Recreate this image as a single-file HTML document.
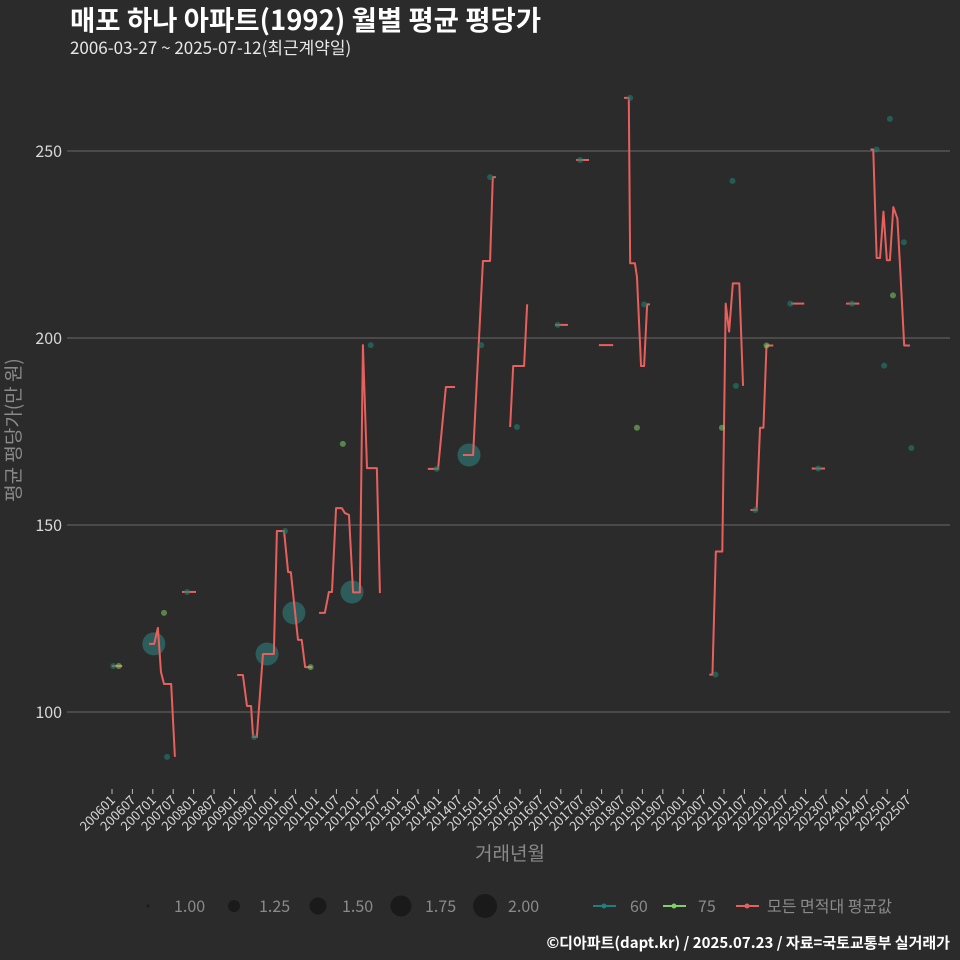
<!DOCTYPE html>
<html><head><meta charset="utf-8">
<style>
body{margin:0;background:#2b2b2b;}
svg{display:block;font-family:"Noto Sans CJK KR","Liberation Sans",sans-serif;}
</style></head>
<body>
<svg id="chart" width="960" height="960" viewBox="0 0 960 960" xmlns="http://www.w3.org/2000/svg">
<rect width="960" height="960" fill="#2b2b2b"/>
<text x="70" y="30" fill="#ffffff" font-size="27.5" font-weight="bold">매포 하나 아파트(1992) 월별 평균 평당가</text>
<text x="70" y="54" fill="#e8e8e8" font-size="17">2006-03-27 ~ 2025-07-12(최근계약일)</text>
<g id="grid"></g>
<g id="yticks"></g>
<g id="xticks"></g>
<g id="bigpts"></g>
<g id="lines"></g>
<g id="pts"></g>
<text x="510" y="860" fill="#8a8a8a" font-size="19" text-anchor="middle">거래년월</text>
<text transform="translate(20,430) rotate(-90)" fill="#8a8a8a" font-size="19" text-anchor="middle">평균 평당가(만 원)</text>
<g font-size="16" fill="#8a8a8a">
<circle cx="148" cy="906" r="1.5" fill="#1a1a1a"/><text x="174" y="912">1.00</text>
<circle cx="234" cy="906" r="6" fill="#1a1a1a"/><text x="259" y="912">1.25</text>
<circle cx="318" cy="906" r="8.5" fill="#1a1a1a"/><text x="342" y="912">1.50</text>
<circle cx="401" cy="906" r="10.5" fill="#1a1a1a"/><text x="425" y="912">1.75</text>
<circle cx="485" cy="906" r="12" fill="#1a1a1a"/><text x="508" y="912">2.00</text>
</g>
<g font-size="16" fill="#8a8a8a">
<line x1="593" y1="906" x2="616" y2="906" stroke="#1f7f80" stroke-width="2"/><circle cx="604" cy="906" r="2.5" fill="#1f7f80"/><text x="630" y="912">60</text>
<line x1="663" y1="906" x2="686" y2="906" stroke="#7fcf6a" stroke-width="2"/><circle cx="674" cy="906" r="2.5" fill="#7fcf6a"/><text x="698" y="912">75</text>
<line x1="736" y1="906" x2="759" y2="906" stroke="#e8605e" stroke-width="2"/><circle cx="747" cy="906" r="2.5" fill="#e8605e"/><text x="767" y="912">모든 면적대 평균값</text>
</g>
<text x="950" y="948" fill="#ffffff" font-size="15" font-weight="bold" text-anchor="end">©디아파트(dapt.kr) / 2025.07.23 / 자료=국토교통부 실거래가</text>
</svg>
<script>
const yTicks=[100,150,200,250];
const xTickLabels=[];
for(let y=2006;y<=2025;y++){xTickLabels.push(y+"01");xTickLabels.push(y+"07");}
// line segments: [monthIndex from 2006-01, value]
const seg1=[[0,112.3],[3,112.3]];
const seg2=[[10.9,118.2],[12.4,118.2],[13.5,122.5],[14.4,110.7],[15.3,107.5],[17.4,107.5],[18.5,88]];
const seg3=[[20.6,132.1],[24.7,132.1]];
const seg4=[[36.8,109.9],[38.5,109.9],[39.7,101.6],[40.9,101.6],[41.5,93.3],[42.6,93.3],[44.4,115.5],[47.6,115.5],[48.5,148.4],[50.6,148.4],[51.8,137.4],[52.6,137.4],[54.7,119.3],[55.8,119.3],[56.8,112],[58.8,112]];
const seg5=[[60.9,126.5],[62.6,126.5],[63.8,132.1],[64.7,132.1],[65.9,154.5],[67.6,154.5],[68.5,153.2],[69.7,152.7],[70.9,132],[72.9,132],[73.8,198.1],[75,165.2],[77.9,165.2],[78.8,131.8]];
const seg6=[[92.9,165],[95.9,165],[98.2,186.9],[100.9,186.9]];
const seg7=[[103.2,168.7],[106.2,168.7],[109.1,220.6],[111.2,220.6],[112,243],[112.9,243]];
const seg8=[[117.1,176.2],[118,192.5],[121.2,192.5],[122.1,209]];
const seg9=[[130.3,203.5],[134.1,203.5]];
const seg10=[[136.5,247.6],[140.3,247.6]];
const seg11=[[143.2,198.1],[147.4,198.1]];
const seg12=[[150.6,264.2],[152,264.2],[152.4,220],[153.8,220],[154.4,216.3],[155.6,192.5],[156.5,192.5],[157.4,209],[158.2,209]];
const seg13=[[175.7,110],[176.6,110],[177.6,142.9],[179.5,142.9],[180.5,209.2],[181.5,201.7],[182.6,214.6],[184.5,214.6],[185.6,187.2]];
const seg14=[[187.8,154],[189.6,154],[190.6,176],[191.6,176],[192.5,198],[194.5,198]];
const seg15=[[199.7,209.2],[203.6,209.2]];
const seg16=[[205.8,165.1],[209.7,165.1]];
const seg17=[[215.9,209.2],[219.8,209.2]];
const seg18=[[223.1,250.4],[223.9,250.4],[224.9,221.4],[225.9,221.4],[226.9,233.8],[227.9,220.8],[228.8,220.8],[229.8,235],[231,231.9],[231.8,218.8],[233,198],[234.7,198]];
const segments=[seg1,seg2,seg3,seg4,seg5,seg6,seg7,seg8,seg9,seg10,seg11,seg12,seg13,seg14,seg15,seg16,seg17,seg18];
// small scatter points: month, value
const pts60Months=[0.4,16.2,22.1,41.8,50.9,76.1,95.5,108.6,111.2,119.1,131.1,137.7,152.4,156.5,177.5,182.5,183.5,189.2,199.5,207.7,217.6,228.8,224.9,227.1,232.9,235.1];
const pts60Values=[112.3,88,132.1,93.3,148.4,198.1,165,198.1,243,176.2,203.5,247.6,264.2,209,110,242,187.2,154,209.2,165.1,209.2,258.6,250.4,192.6,225.6,170.6];
const pts75Months=[2,15.3,67.9,58.4,154.4,179.4,192.5,229.7];
const pts75Values=[112.3,126.5,171.7,112,176,176,198,211.4];
// large points (count 2)
const bigMonths=[12.3,45.6,53.5,70.6,105];
const bigValues=[118.2,115.5,126.5,132.1,168.7];

const xs=m=>112+m*3.4;
const ys=v=>712-(v-100)*3.74;
const NS="http://www.w3.org/2000/svg";
function mk(tag,attrs,parent){const e=document.createElementNS(NS,tag);for(const k in attrs)e.setAttribute(k,attrs[k]);parent.appendChild(e);return e;}
const grid=document.getElementById('grid'),yt=document.getElementById('yticks'),xt=document.getElementById('xticks');
yTicks.forEach(v=>{
 const l=mk('line',{x1:67,x2:950,y1:ys(v),y2:ys(v),stroke:'#5c5c5c','stroke-width':1.2},grid);
 
 
 const t=mk('text',{x:62,y:ys(v)+6,fill:'#d8d8d8','font-size':16,'text-anchor':'end'},yt);
 t.textContent=v;
 
 
});
xTickLabels.forEach((lab,i)=>{
 const x=xs(i*6);
 mk('line',{x1:x,x2:x,y1:789,y2:794,stroke:'#bbbbbb','stroke-width':1},xt);
 const t=mk('text',{transform:`translate(${x+4},801) rotate(-45)`,fill:'#d8d8d8','font-size':13,'text-anchor':'end'},xt);
 t.textContent=lab;
 
 
});
const bg=document.getElementById('bigpts');
bigMonths.forEach((m,i)=>{
 const c=mk('circle',{cx:xs(m),cy:ys(bigValues[i]),r:11.5,fill:'#2f7f7c','fill-opacity':0.6},bg);
 
 
});
const lg=document.getElementById('lines');
segments.forEach((s,i)=>{
 const p=mk('polyline',{points:s.map(d=>xs(d[0])+','+ys(d[1])).join(' '),fill:'none',stroke:'#e8605e','stroke-width':2,'stroke-linejoin':'round'},lg);
 
 
});
const pg=document.getElementById('pts');
pts60Months.forEach((m,i)=>{
 const c=mk('circle',{cx:xs(m),cy:ys(pts60Values[i]),r:3,fill:'#1f7f70','fill-opacity':0.6},pg);
 
 
});
pts75Months.forEach((m,i)=>{
 const c=mk('circle',{cx:xs(m),cy:ys(pts75Values[i]),r:3,fill:'#7fcf6a','fill-opacity':0.55},pg);
 
 
});
</script>
</body></html>
